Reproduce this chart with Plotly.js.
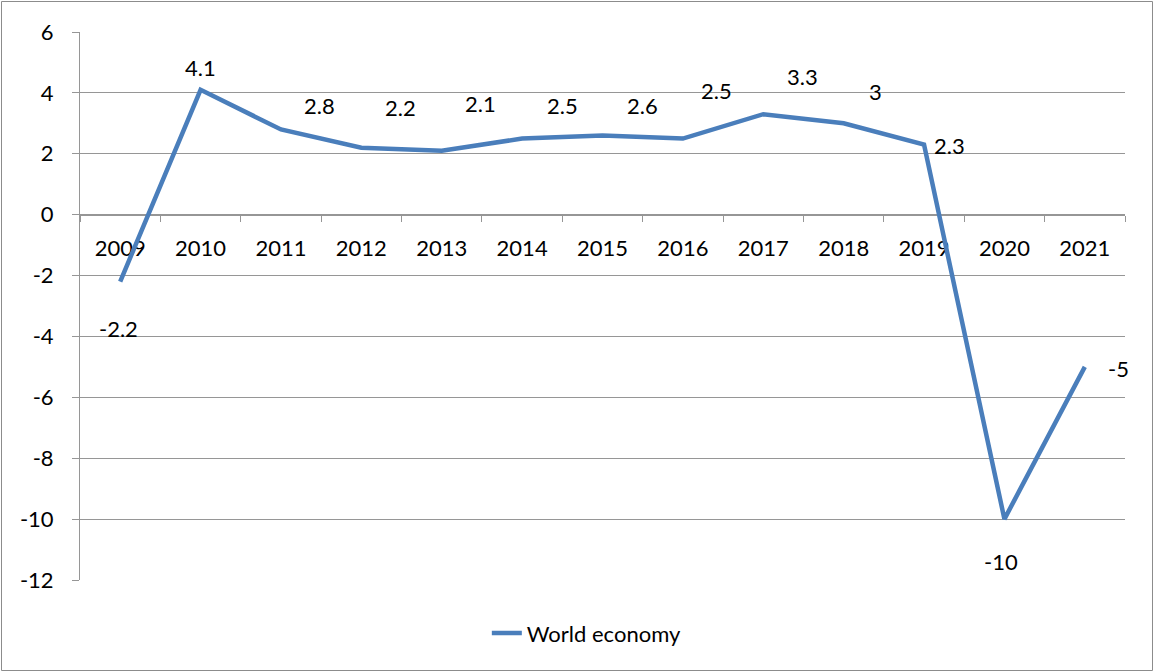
<!DOCTYPE html>
<html>
<head>
<meta charset="utf-8">
<script src="https://cdn.plot.ly/plotly-3.0.1.min.js"></script>
<style>
  html, body { margin: 0; padding: 0; background: #fff; }
  #chart { width: 1155px; height: 672px; }
</style>
</head>
<body>
<div id="chart"></div>
<script>
// ---- data ----
const years = ['2009','2010','2011','2012','2013','2014','2015','2016','2017','2018','2019','2020','2021'];
const worldEconomy = [-2.2, 4.1, 2.8, 2.2, 2.1, 2.5, 2.6, 2.5, 3.3, 3, 2.3, -10, -5];
const seriesName = 'World economy';
const yTickVals = [6, 4, 2, 0, -2, -4, -6, -8, -10, -12];
const yTickText = ['6', '4', '2', '0', '-2', '-4', '-6', '-8', '-10', '-12'];
// label offsets (pixels) mimicking the manually placed data labels
const labelDx = [-2, 0, 39, 39, 39, 40, 40, 34, 39, 32, 25, -3, 34];
const labelDy = [-47, 22, 24, 40, 47, 33, 30, 48, 38, 32, -1, -42, -2];

const FONT = 'Lato, "Open Sans", sans-serif';
const GRID = '#969696';
const W = 1155, H = 672;
const L = 80, R = 30, T = 32, B = 92;
const plotW = W - L - R, plotH = H - T - B;

const trace = {
  type: 'scatter',
  mode: 'lines',
  x: years,
  y: worldEconomy,
  name: seriesName,
  line: { color: '#4a7ebb', width: 4.5 },
  hoverinfo: 'x+y'
};

const annotations = years.map((yr, i) => ({
  x: i, y: worldEconomy[i], xref: 'x', yref: 'y',
  text: String(worldEconomy[i]),
  showarrow: false,
  xanchor: 'center', yanchor: 'middle',
  xshift: labelDx[i], yshift: labelDy[i],
  font: { family: FONT, size: 22, color: '#000000' }
}));

const yMin = -12, yMax = 6;
const zeroFrac = (0 - yMin) / (yMax - yMin);

const layout = {
  width: W, height: H,
  margin: { l: L, r: R, t: T, b: B, pad: 0 },
  paper_bgcolor: '#fff',
  plot_bgcolor: '#fff',
  font: { family: FONT, size: 22, color: '#000' },
  showlegend: true,
  legend: {
    orientation: 'h', x: 0.485, xanchor: 'center', y: -0.097, yanchor: 'middle',
    font: { family: FONT, size: 22, color: '#000' }
  },
  xaxis: {
    type: 'category',
    range: [-0.5, 12.5],
    anchor: 'free',
    position: zeroFrac,
    showline: true, linecolor: GRID, linewidth: 1,
    ticks: 'outside', tickson: 'boundaries', ticklen: 6, tickcolor: GRID, tickwidth: 1,
    showgrid: false, zeroline: false,
    ticklabelstandoff: 14,
    tickfont: { family: FONT, size: 22, color: '#000' },
    layer: 'below traces',
    fixedrange: true
  },
  yaxis: {
    range: [yMin, yMax],
    tickmode: 'array', tickvals: yTickVals, ticktext: yTickText,
    showline: true, linecolor: GRID, linewidth: 1,
    ticks: 'outside', ticklen: 7, tickcolor: GRID, tickwidth: 1,
    showgrid: true, gridcolor: GRID, gridwidth: 1,
    zeroline: false,
    ticklabelstandoff: 14,
    tickfont: { family: FONT, size: 22, color: '#000' },
    layer: 'below traces',
    fixedrange: true
  },
  annotations: annotations,
  shapes: [{
    type: 'rect', xref: 'paper', yref: 'paper',
    x0: (1.5 - L) / plotW, x1: (W - 2.5 - L) / plotW,
    y0: (T + plotH - (H - 1.5)) / plotH, y1: (T + plotH - 1.5) / plotH,
    line: { color: '#8c8c8c', width: 1 },
    fillcolor: 'rgba(0,0,0,0)',
    layer: 'below'
  }]
};

Plotly.newPlot('chart', [trace], layout, { displayModeBar: false }).catch(function (e) {
  var d = document.createElement('pre'); d.textContent = String(e); document.body.appendChild(d);
});
</script>
</body>
</html>
